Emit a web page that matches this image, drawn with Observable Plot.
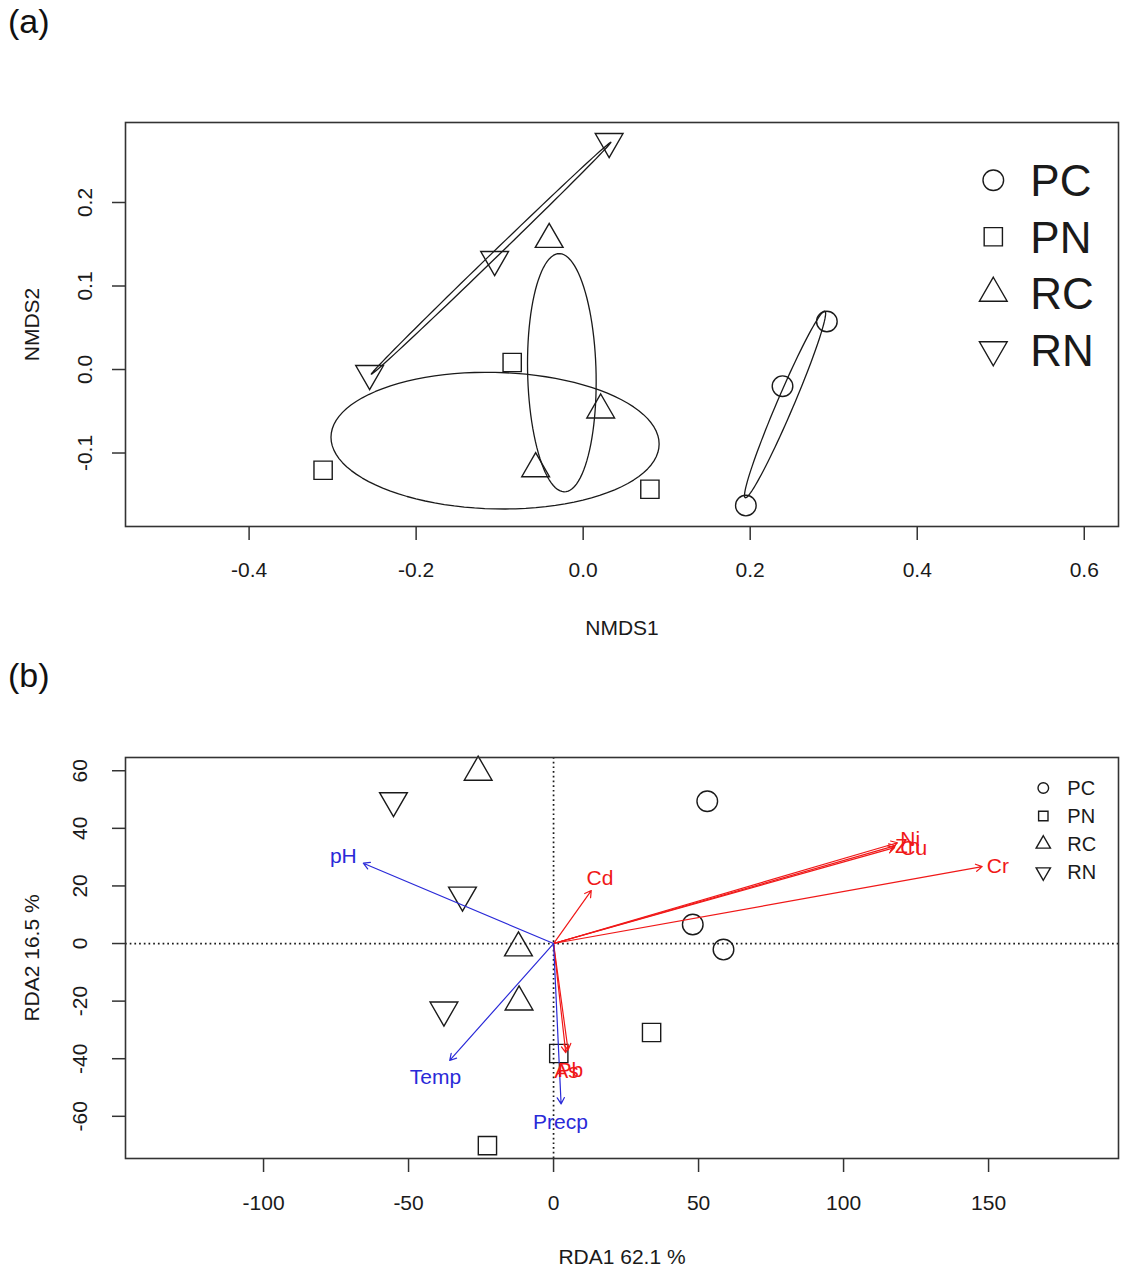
<!DOCTYPE html>
<html>
<head>
<meta charset="utf-8">
<script src="https://cdn.jsdelivr.net/npm/d3@7"></script>
<script src="https://cdn.jsdelivr.net/npm/@observablehq/plot@0.6"></script>
<style>
  html, body { margin: 0; padding: 0; background: #fff; }
  #wrap { position: relative; width: 1129px; height: 1270px; overflow: hidden; font-family: "Liberation Sans", Arial, sans-serif; color: #111; }
  .abs { position: absolute; }
  .panel { font-size: 34px; line-height: 1; }
</style>
</head>
<body>
<div id="wrap"></div>
<script>
// ---------------- DATA ----------------
const groups = ["PC", "PN", "RC", "RN"];

// Panel (a): NMDS site scores
const nmdsSite  = ["PC","PC","PC","PN","PN","PN","RC","RC","RC","RN","RN","RN"];
const nmdsAxis1 = [0.2918, 0.2387, 0.1948, -0.0850, -0.3114, 0.0799, -0.0407, 0.0210, -0.0569, 0.0311, -0.1060, -0.2557];
const nmdsAxis2 = [0.0575, -0.0200, -0.1629, 0.0084, -0.1206, -0.1434, 0.1558, -0.0485, -0.1188, 0.2730, 0.1317, -0.0048];
const nmdsXTicks = [-0.4, -0.2, 0.0, 0.2, 0.4, 0.6];
const nmdsYTicks = [-0.1, 0.0, 0.1, 0.2];

// Panel (b): RDA site scores
const rdaSite  = ["PC","PC","PC","PN","PN","PN","RC","RC","RC","RN","RN","RN"];
const rdaAxis1 = [53.0, 48.0, 58.6, 1.8, 33.8, -22.8, -26.0, -12.1, -11.9, -55.2, -31.4, -37.8];
const rdaAxis2 = [49.4, 6.6, -2.1, -38.2, -30.9, -70.2, 59.5, -1.5, -20.3, 49.6, 16.8, -23.1];

// Panel (b): environmental vectors (blue)
const envNames = ["pH", "Temp", "Precp"];
const envTip1  = [-65.6, -35.8, 2.6];
const envTip2  = [27.9, -40.6, -55.7];
const envLab1  = [-72.5, -40.7, 2.4];
const envLab2  = [30.2, -46.5, -62.0];

// Panel (b): heavy-metal vectors (red)
const metalNames = ["Cd", "Cr", "Ni", "Zn", "Cu", "As", "Pb"];
const metalTip1  = [13.0, 147.8, 118.6, 117.9, 117.6, 4.2, 5.0];
const metalTip2  = [18.4, 26.7, 35.0, 34.0, 33.3, -37.9, -37.0];
const metalLab1  = [16.0, 153.2, 123.0, 122.0, 124.2, 4.5, 5.8];
const metalLab2  = [22.5, 26.7, 36.3, 33.8, 33.2, -44.3, -44.0];

const rdaXTicks = [-100, -50, 0, 50, 100, 150];
const rdaYTicks = [-60, -40, -20, 0, 20, 40, 60];

const xLabelA = "NMDS1", yLabelA = "NMDS2";
const xLabelB = "RDA1 62.1 %", yLabelB = "RDA2 16.5 %";

// ---------------- STYLE ----------------
const FONT = "'Liberation Sans', Arial, sans-serif";
const INK = "#1a1a1a";
const BLUE = "#2a2ad8";
const RED = "#f01818";

// R-like plotting symbols (pch 1, 0, 2, 6)
const SYM = {
  PC: { draw(c, s) { const R = Math.sqrt(s / Math.PI); c.moveTo(R, 0); c.arc(0, 0, R, 0, 2 * Math.PI); c.closePath(); } },
  PN: { draw(c, s) { const h = Math.sqrt(s / Math.PI) * 0.8862269; c.moveTo(-h, -h); c.lineTo(h, -h); c.lineTo(h, h); c.lineTo(-h, h); c.closePath(); } },
  RC: { draw(c, s) { const r = Math.sqrt(s / Math.PI) * 1.5551203, a = r * Math.sqrt(3) / 2; c.moveTo(0, -r); c.lineTo(a, r / 2); c.lineTo(-a, r / 2); c.closePath(); } },
  RN: { draw(c, s) { const r = Math.sqrt(s / Math.PI) * 1.5551203, a = r * Math.sqrt(3) / 2; c.moveTo(0, r); c.lineTo(a, -r / 2); c.lineTo(-a, -r / 2); c.closePath(); } }
};

// Standard-deviation ellipse of a group (as vegan::ordiellipse kind = "sd")
function sdEllipse(pts, n = 100) {
  const mx = d3.mean(pts, p => p.x), my = d3.mean(pts, p => p.y), k = pts.length - 1;
  const sxx = d3.sum(pts, p => (p.x - mx) ** 2) / k;
  const syy = d3.sum(pts, p => (p.y - my) ** 2) / k;
  const sxy = d3.sum(pts, p => (p.x - mx) * (p.y - my)) / k;
  const a = Math.sqrt(sxx), b = sxy / a, c = Math.sqrt(Math.max(0, syy - b * b));
  return d3.range(n).map(i => {
    const t = 2 * Math.PI * i / n, u = Math.cos(t), v = Math.sin(t);
    return { x: mx + a * u, y: my + b * u + c * v };
  });
}

const wrap = document.getElementById("wrap");

// ---------------- PANEL (a) ----------------
const siteA = nmdsSite.map((g, i) => ({ g, x: nmdsAxis1[i], y: nmdsAxis2[i] }));
const ellA = groups.flatMap(g => sdEllipse(siteA.filter(d => d.g === g)).map(p => ({ g, ...p })));

const plotA = Plot.plot({
  width: 1129, height: 650,
  marginLeft: 125, marginRight: 11, marginTop: 122, marginBottom: 124,
  x: { domain: [-0.548, 0.641], axis: null },
  y: { domain: [-0.188, 0.2958], axis: null },
  style: { fontFamily: FONT, fontSize: "21px", color: INK, background: "transparent", overflow: "visible" },
  marks: [
    Plot.axisX({ ticks: nmdsXTicks, tickSize: 14, tickFormat: () => "", label: null, color: "#333", strokeWidth: 1.5 }),
    Plot.axisY({ ticks: nmdsYTicks, tickSize: 13, tickFormat: () => "", label: null, color: "#333", strokeWidth: 1.5 }),
    Plot.text(nmdsXTicks, { x: d => d, text: d => d.toFixed(1), frameAnchor: "bottom", dy: 44, lineAnchor: "middle", fill: INK }),
    Plot.text(nmdsYTicks, { y: d => d, text: d => d.toFixed(1), frameAnchor: "left", dx: -40, rotate: -90, textAnchor: "middle", lineAnchor: "middle", fill: INK }),
    Plot.text([xLabelA], { text: d => d, frameAnchor: "bottom", dy: 102, lineAnchor: "middle", fill: INK }),
    Plot.text([yLabelA], { text: d => d, frameAnchor: "left", dx: -93, rotate: -90, textAnchor: "middle", lineAnchor: "middle", fill: INK }),
    Plot.line(ellA, { x: "x", y: "y", z: "g", curve: "linear-closed", stroke: INK, strokeWidth: 1.3 }),
    ...groups.map(g => Plot.dot(siteA.filter(d => d.g === g), { x: "x", y: "y", symbol: SYM[g], r: 10.3, stroke: INK, strokeWidth: 1.4, fill: "none" })),
    Plot.frame({ stroke: "#333", strokeWidth: 1.6 })
  ]
});
plotA.classList.add("abs");
plotA.style.left = "0px"; plotA.style.top = "0px";
wrap.appendChild(plotA);

// ---------------- PANEL (b) ----------------
const siteB = rdaSite.map((g, i) => ({ g, x: rdaAxis1[i], y: rdaAxis2[i] }));
const envB = envNames.map((n, i) => ({ n, x: envTip1[i], y: envTip2[i], lx: envLab1[i], ly: envLab2[i] }));
const metB = metalNames.map((n, i) => ({ n, x: metalTip1[i], y: metalTip2[i], lx: metalLab1[i], ly: metalLab2[i] }));

const plotB = Plot.plot({
  width: 1129, height: 630,
  marginLeft: 125, marginRight: 11, marginTop: 117, marginBottom: 112,
  x: { domain: [-147.6, 194.8], axis: null },
  y: { domain: [-74.65, 64.6], axis: null },
  style: { fontFamily: FONT, fontSize: "21px", color: INK, background: "transparent", overflow: "visible" },
  marks: [
    Plot.axisX({ ticks: rdaXTicks, tickSize: 14, tickFormat: () => "", label: null, color: "#333", strokeWidth: 1.5 }),
    Plot.axisY({ ticks: rdaYTicks, tickSize: 13, tickFormat: () => "", label: null, color: "#333", strokeWidth: 1.5 }),
    Plot.text(rdaXTicks, { x: d => d, text: d => String(d), frameAnchor: "bottom", dy: 45, lineAnchor: "middle", fill: INK }),
    Plot.text(rdaYTicks, { y: d => d, text: d => String(d), frameAnchor: "left", dx: -45, rotate: -90, textAnchor: "middle", lineAnchor: "middle", fill: INK }),
    Plot.text([xLabelB], { text: d => d, frameAnchor: "bottom", dy: 99, lineAnchor: "middle", fill: INK }),
    Plot.text([yLabelB], { text: d => d, frameAnchor: "left", dx: -93, rotate: -90, textAnchor: "middle", lineAnchor: "middle", fill: INK }),
    Plot.ruleX([0], { stroke: INK, strokeWidth: 1.7, strokeDasharray: "1.7,3" }),
    Plot.ruleY([0], { stroke: INK, strokeWidth: 1.7, strokeDasharray: "1.7,3" }),
    ...groups.map(g => Plot.dot(siteB.filter(d => d.g === g), { x: "x", y: "y", symbol: SYM[g], r: 10.3, stroke: INK, strokeWidth: 1.4, fill: "none" })),
    Plot.arrow(metB, { x1: () => 0, y1: () => 0, x2: "x", y2: "y", stroke: RED, strokeWidth: 1.2, headLength: 9, headAngle: 60 }),
    Plot.arrow(envB, { x1: () => 0, y1: () => 0, x2: "x", y2: "y", stroke: BLUE, strokeWidth: 1.2, headLength: 9, headAngle: 60 }),
    Plot.text(metB, { x: "lx", y: "ly", text: "n", fill: RED, fontSize: 21, textAnchor: "middle", lineAnchor: "middle" }),
    Plot.text(envB, { x: "lx", y: "ly", text: "n", fill: BLUE, fontSize: 21, textAnchor: "middle", lineAnchor: "middle" }),
    Plot.frame({ stroke: "#333", strokeWidth: 1.6 })
  ]
});
plotB.classList.add("abs");
plotB.style.left = "0px"; plotB.style.top = "640px";
wrap.appendChild(plotB);

// ---------------- LEGENDS & PANEL LABELS ----------------
function legend(left, top, rowGap, R, fontSize, textGap) {
  const h = rowGap * groups.length + 10;
  const svg = d3.create("svg").attr("width", 200).attr("height", h)
    .attr("class", "abs").style("left", left + "px").style("top", top + "px").style("overflow", "visible");
  groups.forEach((g, i) => {
    const cy = rowGap / 2 + i * rowGap;
    svg.append("path").attr("d", d3.symbol().type(SYM[g]).size(Math.PI * R * R)())
      .attr("transform", `translate(${R + 6},${cy})`).attr("fill", "none").attr("stroke", INK).attr("stroke-width", 1.4);
    svg.append("text").attr("x", R + 6 + textGap).attr("y", cy).attr("dy", "0.36em")
      .attr("font-family", FONT).attr("font-size", fontSize).attr("fill", INK).text(g);
  });
  wrap.appendChild(svg.node());
}
legend(977, 152, 56.5, 10.3, 44, 37);
legend(1032, 774, 28, 5.3, 20, 24);

for (const [txt, top] of [["(a)", 4], ["(b)", 658]]) {
  const d = document.createElement("div");
  d.className = "abs panel";
  d.style.left = "8px"; d.style.top = top + "px";
  d.textContent = txt;
  wrap.appendChild(d);
}
</script>
</body>
</html>
